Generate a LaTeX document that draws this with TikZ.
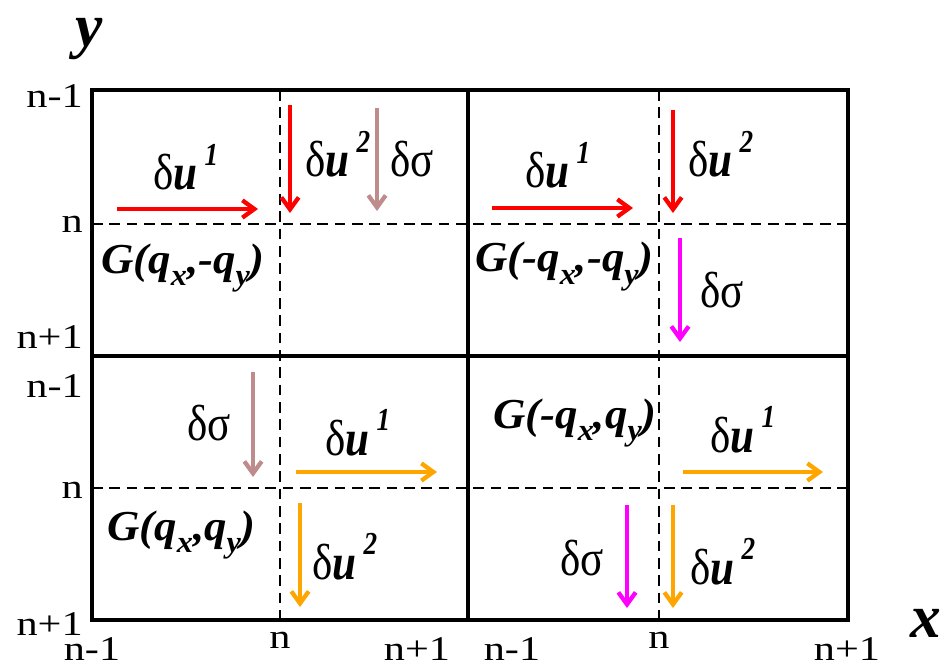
\documentclass[tikz,border=0pt]{standalone}
\usepackage{fontspec}
\setmainfont{Liberation Serif}
\newfontfamily\tickfont[FakeStretch=1.22]{Liberation Serif}
\newfontfamily\labfont[FakeStretch=0.85]{Liberation Serif}
\newfontfamily\gfont[FakeStretch=1.05]{Liberation Serif}
\usetikzlibrary{arrows.meta}
\definecolor{sigbrown}{RGB}{190,140,140}
\definecolor{arrorange}{RGB}{255,165,0}
\definecolor{arrmagenta}{RGB}{255,0,255}
\definecolor{arrred}{RGB}{255,0,0}
\newcommand{\mydu}[1]{δ\textbf{\textit{u}}\hspace{0.14em}\raisebox{0.48em}{\fontsize{24}{24}\selectfont\textbf{\textit{#1}}}}
\newcommand{\mysub}[1]{\raisebox{-0.3em}{\fontsize{23}{23}\selectfont #1}}
\begin{document}
\begin{tikzpicture}[x=0.75pt,y=-0.75pt,
 frame/.style={line width=3.4pt},
 gridline/.style={line width=1.5pt,dash pattern=on 8pt off 5pt},
 arr/.style={line width=3.2pt,-{Straight Barb[length=9pt,width=13pt]}},
 tick/.style={font=\tickfont\fontsize{26}{26}\selectfont, inner sep=0pt},
 glabel/.style={font=\gfont\fontsize{32}{32}\selectfont\bfseries\itshape, inner sep=0pt, anchor=base west},
 dlabel/.style={font=\labfont\fontsize{38}{38}\selectfont, inner sep=0pt, anchor=base west},
 axislabel/.style={font=\fontsize{46}{46}\selectfont\bfseries\itshape, inner sep=0pt, anchor=base west}]
\useasboundingbox (0,0) rectangle (948,666);
% grid
\draw[gridline] (92,224) -- (848,224);
\draw[gridline] (92,488) -- (848,488);
\draw[gridline] (280,90) -- (280,620);
\draw[gridline] (659,90) -- (659,620);
\draw[frame] (92,90) rectangle (848,620);
\draw[frame] (468,90) -- (468,620);
\draw[frame] (92,356) -- (848,356);
% axis labels
\node[axislabel] (ylab) at (75,47) {y};
\node[axislabel] (xlab) at (910,637) {x};
% left ticks
\node[tick,anchor=base east] (l1) at (83,108) {n-1};
\node[tick,anchor=base east] (l2) at (83,233) {n};
\node[tick,anchor=base east] (l3) at (83,348) {n+1};
\node[tick,anchor=base east] (l4) at (83,397) {n-1};
\node[tick,anchor=base east] (l5) at (83,498) {n};
\node[tick,anchor=base east] (l6) at (83,635) {n+1};
% bottom ticks
\node[tick,anchor=base] (b1) at (92,660) {n-1};
\node[tick,anchor=base] (b2) at (280,648) {n};
\node[tick,anchor=base] (b3) at (417,660) {n+1};
\node[tick,anchor=base] (b4) at (512,660) {n-1};
\node[tick,anchor=base] (b5) at (659,648) {n};
\node[tick,anchor=base] (b6) at (847,660) {n+1};
% G labels
\node[glabel] (g1) at (101,273) {G(q\mysub{x},-q\mysub{y})};
\node[glabel] (g2) at (475,272) {G(-q\mysub{x},-q\mysub{y})};
\node[glabel] (g3) at (107,540) {G(q\mysub{x},q\mysub{y})};
\node[glabel] (g4) at (493,428) {G(-q\mysub{x},q\mysub{y})};
% delta labels
\node[dlabel] (tl1) at (153,190) {\mydu{1}};
\node[dlabel] (tl2) at (305,177) {\mydu{2}};
\node[dlabel] (tl3) at (390,177) {δσ};
\node[dlabel] (tr1) at (525,188) {\mydu{1}};
\node[dlabel] (tr2) at (688,177) {\mydu{2}};
\node[dlabel] (tr3) at (700,307) {δσ};
\node[dlabel] (bl3) at (187,440) {δσ};
\node[dlabel] (bl1) at (325,455) {\mydu{1}};
\node[dlabel] (bl2) at (312,579) {\mydu{2}};
\node[dlabel] (br1) at (710,452) {\mydu{1}};
\node[dlabel] (br3) at (560,575) {δσ};
\node[dlabel] (br2) at (690,584) {\mydu{2}};
% arrow end points
\coordinate (a1s) at (117,209); \coordinate (a1e) at (258,209);
\coordinate (a2s) at (290,105); \coordinate (a2e) at (290,213);
\coordinate (a3s) at (377,108); \coordinate (a3e) at (377,211);
\coordinate (a4s) at (492,208); \coordinate (a4e) at (633,208);
\coordinate (a5s) at (673,110); \coordinate (a5e) at (673,213);
\coordinate (a6s) at (680,238); \coordinate (a6e) at (680,342);
\coordinate (a7s) at (253,372); \coordinate (a7e) at (253,477);
\coordinate (a8s) at (296,472); \coordinate (a8e) at (437,472);
\coordinate (a9s) at (300,503); \coordinate (a9e) at (300,607);
\coordinate (a10s) at (683,472); \coordinate (a10e) at (823,472);
\coordinate (a11s) at (627,505); \coordinate (a11e) at (627,608);
\coordinate (a12s) at (673,505); \coordinate (a12e) at (673,608);
\draw[arr,arrred] (a1s) -- (a1e);
\draw[arr,arrred] (a2s) -- (a2e);
\draw[arr,sigbrown] (a3s) -- (a3e);
\draw[arr,arrred] (a4s) -- (a4e);
\draw[arr,arrred] (a5s) -- (a5e);
\draw[arr,arrmagenta] (a6s) -- (a6e);
\draw[arr,sigbrown] (a7s) -- (a7e);
\draw[arr,arrorange] (a8s) -- (a8e);
\draw[arr,arrorange] (a9s) -- (a9e);
\draw[arr,arrorange] (a10s) -- (a10e);
\draw[arr,arrmagenta] (a11s) -- (a11e);
\draw[arr,arrorange] (a12s) -- (a12e);
\end{tikzpicture}
\end{document}
